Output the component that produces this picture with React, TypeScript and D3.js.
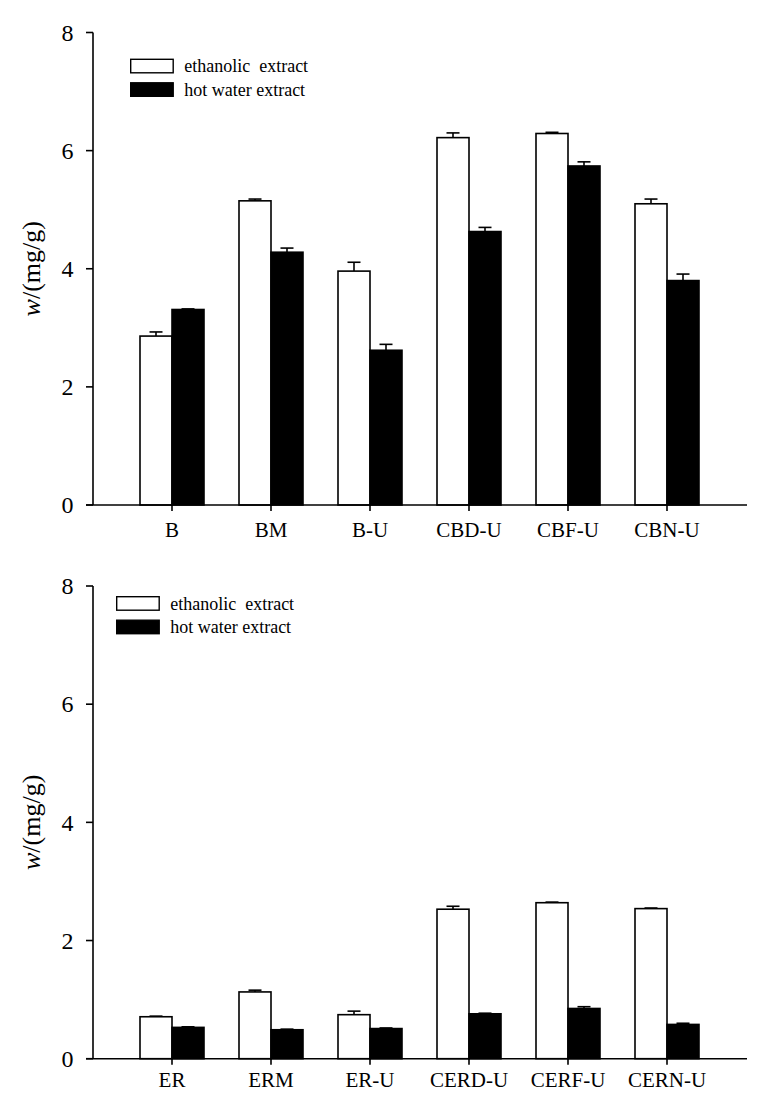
import React from "react";
import * as d3 from "d3";

const topCategories = ["B", "BM", "B-U", "CBD-U", "CBF-U", "CBN-U"];
const topEthanol = [2.86, 5.15, 3.96, 6.22, 6.29, 5.1];
const topEthanolErr = [0.07, 0.03, 0.15, 0.08, 0.02, 0.08];
const topWater = [3.31, 4.28, 2.62, 4.63, 5.74, 3.8];
const topWaterErr = [0.01, 0.07, 0.1, 0.07, 0.07, 0.11];

const bottomCategories = ["ER", "ERM", "ER-U", "CERD-U", "CERF-U", "CERN-U"];
const bottomEthanol = [0.71, 1.13, 0.745, 2.53, 2.64, 2.54];
const bottomEthanolErr = [0.01, 0.03, 0.06, 0.05, 0.01, 0.01];
const bottomWater = [0.53, 0.49, 0.51, 0.76, 0.85, 0.58];
const bottomWaterErr = [0.01, 0.01, 0.01, 0.01, 0.03, 0.02];

const yTicks = [0, 2, 4, 6, 8];
const legendLabels = ["ethanolic  extract", "hot water extract"];

const FONT = "'Liberation Serif', 'Times New Roman', serif";

type PanelProps = {
  categories: string[];
  ethanol: number[];
  ethanolErr: number[];
  water: number[];
  waterErr: number[];
  y0: number;
  y8: number;
  legendX: number;
  legendY: number;
  labelOffset: number;
};

function Panel({ categories, ethanol, ethanolErr, water, waterErr, y0, y8, legendX, legendY, labelOffset }: PanelProps) {
  const axisX = 93;
  const axisRight = 747;
  const x = d3.scalePoint<string>().domain(categories).range([172, 667]);
  const y = d3.scaleLinear().domain([0, 8]).range([y0, y8]);
  const barW = 32;
  const capW = 13;
  const series = [
    { vals: ethanol, errs: ethanolErr, fill: "#fff", offset: -barW },
    { vals: water, errs: waterErr, fill: "#000", offset: 0 },
  ];
  const midY = (y(0) + y(8)) / 2;
  return (
    <g>
      {series.map((s, si) =>
        categories.map((c, i) => {
          const cx = (x(c) as number) + s.offset + barW / 2;
          const top = y(s.vals[i] + s.errs[i]);
          return (
            <g key={`e${si}-${i}`} stroke="#000" strokeWidth={1.6}>
              <line x1={cx} x2={cx} y1={y(s.vals[i])} y2={top} />
              <line x1={cx - capW / 2} x2={cx + capW / 2} y1={top} y2={top} />
            </g>
          );
        })
      )}
      {series.map((s, si) =>
        categories.map((c, i) => (
          <rect
            key={`b${si}-${i}`}
            x={(x(c) as number) + s.offset}
            y={y(s.vals[i])}
            width={barW}
            height={y(0) - y(s.vals[i])}
            fill={s.fill}
            stroke="#000"
            strokeWidth={1.6}
          />
        ))
      )}
      <line x1={axisX} x2={axisX} y1={y(0)} y2={y(8)} stroke="#000" strokeWidth={1.6} />
      {yTicks.map((t) => (
        <g key={t}>
          <line x1={axisX - 7} x2={axisX} y1={y(t)} y2={y(t)} stroke="#000" strokeWidth={1.6} />
          <text x={73.5} y={y(t)} dy="0.34em" textAnchor="end" fontFamily={FONT} fontSize={24}>
            {t}
          </text>
        </g>
      ))}
      <line x1={axisX - 7} x2={axisRight} y1={y(0)} y2={y(0)} stroke="#000" strokeWidth={1.6} />
      {categories.map((c) => (
        <g key={c}>
          <line x1={x(c)} x2={x(c)} y1={y(0)} y2={y(0) + 6} stroke="#000" strokeWidth={1.6} />
          <text x={x(c)} y={y(0) + labelOffset} textAnchor="middle" fontFamily={FONT} fontSize={21}>
            {c}
          </text>
        </g>
      ))}
      <text
        transform={`translate(40, ${midY}) rotate(-90)`}
        textAnchor="middle"
        fontFamily={FONT}
        fontSize={26}
      >
        <tspan fontStyle="italic">w</tspan>/(mg/g)
      </text>
      {legendLabels.map((l, i) => (
        <g key={l}>
          <rect
            x={legendX}
            y={legendY + i * 23.5}
            width={42.5}
            height={13.5}
            fill={i === 0 ? "#fff" : "#000"}
            stroke="#000"
            strokeWidth={1.4}
          />
          <text
            x={legendX + 53.5}
            y={legendY + i * 23.5 + 13}
            fontFamily={FONT}
            fontSize={18}
            style={{ whiteSpace: "pre" }}
          >
            {l}
          </text>
        </g>
      ))}
    </g>
  );
}

export default function App() {
  return (
    <svg
      width={780}
      height={1116}
      style={{ position: "absolute", left: 0, top: 0, background: "#fff" }}
    >
      <rect width={780} height={1116} fill="#fff" />
      <Panel
        categories={topCategories}
        ethanol={topEthanol}
        ethanolErr={topEthanolErr}
        water={topWater}
        waterErr={topWaterErr}
        y0={505}
        y8={32.5}
        legendX={130.7}
        legendY={59.3}
        labelOffset={32}
      />
      <Panel
        categories={bottomCategories}
        ethanol={bottomEthanol}
        ethanolErr={bottomEthanolErr}
        water={bottomWater}
        waterErr={bottomWaterErr}
        y0={1058.7}
        y8={586}
        legendX={116.7}
        legendY={596.7}
        labelOffset={28}
      />
    </svg>
  );
}
